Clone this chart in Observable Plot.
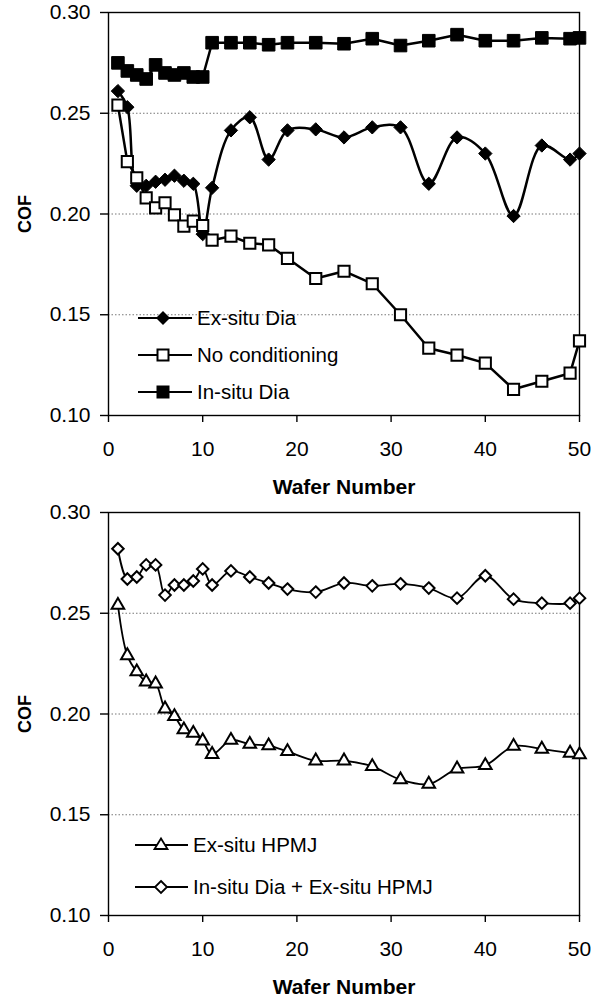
<!DOCTYPE html>
<html>
<head>
<meta charset="utf-8">
<script src="https://cdn.jsdelivr.net/npm/d3@7"></script>
<script src="https://cdn.jsdelivr.net/npm/@observablehq/plot@0.6"></script>
<style>
  html, body { margin: 0; padding: 0; background: #fff; }
  #wrap { position: relative; width: 605px; height: 999px; font-family: 'Liberation Sans', Arial, sans-serif; }
  #wrap svg { display: block; }
  .leg { position: absolute; display: flex; align-items: center; height: 24px; font-size: 20.5px; line-height: 24px; color: #000; white-space: nowrap; }
  .leg span { margin-left: 5px; }
</style>
</head>
<body>
<div id="wrap"></div>
<script>
// ---- data ----
const wafer = [1,2,3,4,5,6,7,8,9,10,11,13,15,17,19,22,25,28,31,34,37,40,43,46,49,50];

// top panel
const exsituDia = [0.261,0.253,0.214,0.214,0.216,0.217,0.219,0.2165,0.215,0.190,0.213,0.2415,0.248,0.227,0.2415,0.242,0.238,0.243,0.243,0.215,0.238,0.230,0.199,0.234,0.227,0.230];
const noConditioning = [0.254,0.226,0.218,0.208,0.203,0.2056,0.1996,0.194,0.1965,0.1943,0.187,0.189,0.1855,0.1847,0.178,0.168,0.1716,0.1654,0.150,0.1334,0.130,0.126,0.113,0.117,0.121,0.137];
const insituDia = [0.275,0.271,0.269,0.267,0.274,0.270,0.269,0.270,0.268,0.268,0.285,0.285,0.285,0.284,0.285,0.285,0.2845,0.287,0.2836,0.286,0.289,0.286,0.286,0.2874,0.287,0.2874];

// bottom panel
const exsituHPMJ = [0.254,0.229,0.221,0.216,0.215,0.2026,0.1988,0.1922,0.1905,0.1867,0.180,0.187,0.185,0.1843,0.1814,0.1768,0.1768,0.174,0.1674,0.1652,0.1728,0.1745,0.184,0.1826,0.1806,0.1798];
const insituDiaHPMJ = [0.282,0.267,0.268,0.274,0.274,0.259,0.264,0.264,0.266,0.272,0.264,0.271,0.268,0.265,0.262,0.2605,0.265,0.2636,0.2646,0.2625,0.2575,0.2686,0.257,0.255,0.255,0.2575];

const xTicks = [0,10,20,30,40,50];
const yTicks = [0.10,0.15,0.20,0.25,0.30];
const gridTicks = [0.15,0.20,0.25];
const xLabel = "Wafer Number";
const yLabel = "COF";

const topSeries = [
  {name: "Ex-situ Dia", values: exsituDia, symbol: "diamond2", r: 6.0, fill: "#000", curve: "catmull-rom", sw: 2.5, sym: "fdiamond"},
  {name: "No conditioning", values: noConditioning, symbol: "square", r: 6.3, fill: "#fff", curve: "linear", sw: 2.5, sym: "osquare"},
  {name: "In-situ Dia", values: insituDia, symbol: "square", r: 7.1, fill: "#000", curve: "linear", sw: 2.5, sym: "fsquare"}
];
const bottomSeries = [
  {name: "Ex-situ HPMJ", values: exsituHPMJ, symbol: "triangle2", r: 6.0, fill: "#fff", curve: "catmull-rom", sw: 1.8, sym: "otri"},
  {name: "In-situ Dia + Ex-situ HPMJ", values: insituDiaHPMJ, symbol: "diamond2", r: 5.2, fill: "#fff", curve: "catmull-rom", sw: 1.8, sym: "odiamond"}
];

function rows(s) { return wafer.map((w, i) => ({wafer: w, cof: s.values[i]})); }

function panel(series, height, mb) {
  const marks = [
    Plot.gridY(gridTicks, {stroke: "#777", strokeDasharray: "1.5,2", strokeOpacity: 1, strokeWidth: 1}),
    Plot.frame({stroke: "#000", strokeWidth: 1.4}),
    Plot.axisX(xTicks, {tickSize: 7, tickPadding: 19, label: null, strokeWidth: 1.4}),
    Plot.axisY(yTicks, {tickSize: 8, tickPadding: 10, tickFormat: ".2f", label: null, strokeWidth: 1.4})
  ];
  for (const s of series) {
    const d = rows(s);
    marks.push(Plot.line(d, {x: "wafer", y: "cof", curve: s.curve, stroke: "#000", strokeWidth: s.sw}));
    marks.push(Plot.dot(d, {x: "wafer", y: "cof", symbol: s.symbol, r: s.r, fill: s.fill, stroke: "#000", strokeWidth: s.fill === "#000" ? 1 : 2}));
  }
  marks.push(Plot.text([yLabel], {text: d => d, frameAnchor: "left", dx: -83, rotate: -90, textAnchor: "middle", lineAnchor: "middle", fontWeight: "bold", fontSize: 18}));
  marks.push(Plot.text([xLabel], {text: d => d, frameAnchor: "bottom", dy: 72, textAnchor: "middle", lineAnchor: "middle", fontWeight: "bold", fontSize: 21}));
  return Plot.plot({
    width: 605, height: height,
    marginTop: 12, marginBottom: mb, marginLeft: 108, marginRight: 26,
    style: {fontFamily: "'Liberation Sans', Arial, sans-serif", fontSize: "21px", color: "#000", background: "#fff", overflow: "visible"},
    x: {domain: [0, 50], label: null},
    y: {domain: [0.10, 0.30], label: null},
    marks
  });
}

function icon(sym) {
  switch (sym) {
    case "fsquare": return '<rect x="18.5" y="5.5" width="13" height="13" fill="#000"/>';
    case "osquare": return '<rect x="19.5" y="6.5" width="11" height="11" fill="#fff" stroke="#000" stroke-width="2"/>';
    case "fdiamond": return '<polygon points="25,5 32,12 25,19 18,12" fill="#000"/>';
    case "odiamond": return '<polygon points="26,6 32,12 26,18 20,12" fill="#fff" stroke="#000" stroke-width="1.8"/>';
    case "otri": return '<polygon points="26,5.5 32.5,16 19.5,16" fill="#fff" stroke="#000" stroke-width="1.8"/>';
  }
}

function legend(series, left, lineW, centers, sw) {
  series.forEach((s, i) => {
    const div = document.createElement("div");
    div.className = "leg";
    div.style.left = left + "px";
    div.style.top = (centers[i] - 12) + "px";
    div.innerHTML = `<svg width="${lineW}" height="24" style="display:block"><line x1="0" y1="12" x2="${lineW}" y2="12" stroke="#000" stroke-width="${sw}"/>${icon(s.sym)}</svg><span>${s.name}</span>`;
    document.getElementById("wrap").appendChild(div);
  });
}

const wrap = document.getElementById("wrap");
wrap.appendChild(panel(topSeries, 500, 85));
wrap.appendChild(panel(bottomSeries, 499, 84));
legend(topSeries, 138, 54, [318, 355, 392], 2.2);
legend(bottomSeries, 135, 53, [845, 887], 1.8);
</script>
</body>
</html>
